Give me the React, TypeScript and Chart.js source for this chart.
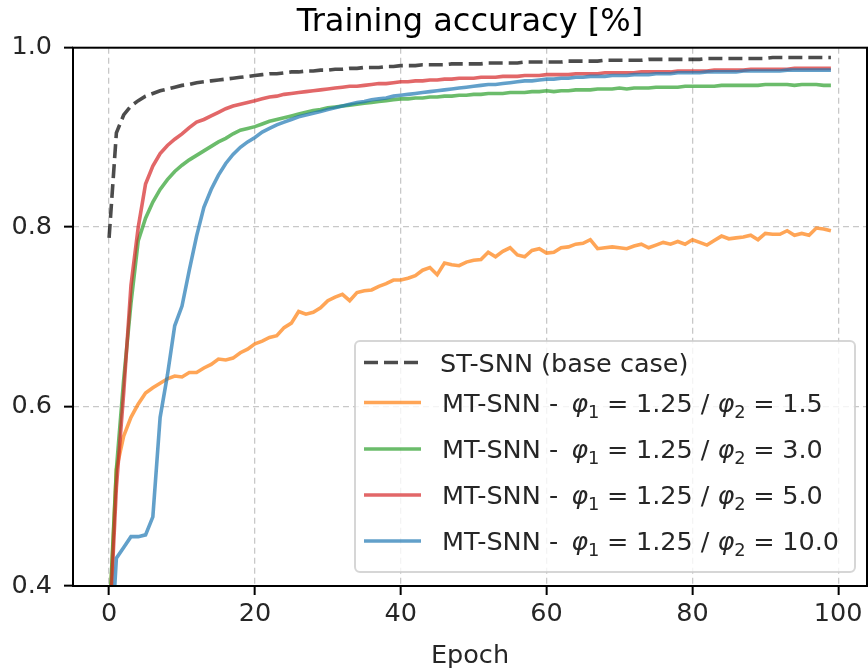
import React, { useEffect, useRef } from "react";
import { Chart, registerables } from "chart.js";

Chart.register(...registerables);

// Training accuracy per epoch for each configuration
const epochs: number[] = Array.from({ length: 100 }, (_, i) => i);

const baseCase: number[] = [
  0.788, 0.905, 0.925, 0.935, 0.941, 0.946, 0.949, 0.952, 0.954, 0.956,
  0.958, 0.959, 0.961, 0.962, 0.963, 0.964, 0.965, 0.966, 0.967, 0.968,
  0.969, 0.970, 0.971, 0.971, 0.972, 0.973, 0.973, 0.974, 0.974, 0.975,
  0.975, 0.976, 0.976, 0.977, 0.977, 0.978, 0.978, 0.978, 0.979, 0.979,
  0.980, 0.980, 0.980, 0.981, 0.981, 0.981, 0.981, 0.982, 0.982, 0.982,
  0.982, 0.982, 0.983, 0.983, 0.983, 0.983, 0.983, 0.984, 0.984, 0.984,
  0.984, 0.984, 0.984, 0.985, 0.985, 0.985, 0.985, 0.985, 0.986, 0.986,
  0.986, 0.986, 0.986, 0.986, 0.987, 0.987, 0.987, 0.987, 0.987, 0.987,
  0.987, 0.987, 0.988, 0.988, 0.988, 0.988, 0.988, 0.988, 0.988, 0.988,
  0.988, 0.989, 0.989, 0.989, 0.989, 0.989, 0.989, 0.989, 0.989, 0.989,
];

const phi2_1_5: number[] = [
  0.350, 0.530, 0.567, 0.588, 0.603, 0.615, 0.621, 0.626, 0.631, 0.634,
  0.633, 0.638, 0.638, 0.643, 0.647, 0.653, 0.652, 0.654, 0.660, 0.664,
  0.670, 0.673, 0.677, 0.679, 0.688, 0.693, 0.706, 0.703, 0.705, 0.710,
  0.718, 0.722, 0.725, 0.718, 0.727, 0.729, 0.730, 0.734, 0.737, 0.741,
  0.741, 0.743, 0.746, 0.752, 0.755, 0.747, 0.760, 0.758, 0.757, 0.761,
  0.763, 0.764, 0.772, 0.767, 0.773, 0.777, 0.769, 0.767, 0.774, 0.776,
  0.771, 0.772, 0.777, 0.778, 0.781, 0.782, 0.786, 0.776, 0.777, 0.778,
  0.777, 0.776, 0.779, 0.781, 0.777, 0.780, 0.783, 0.781, 0.784, 0.781,
  0.786, 0.783, 0.780, 0.785, 0.790, 0.787, 0.788, 0.789, 0.791, 0.786,
  0.793, 0.792, 0.792, 0.796, 0.791, 0.793, 0.791, 0.799, 0.798, 0.796,
];

const phi2_3_0: number[] = [
  0.360, 0.530, 0.630, 0.715, 0.785, 0.810, 0.828, 0.842, 0.853, 0.862,
  0.869, 0.875, 0.880, 0.885, 0.890, 0.895, 0.899, 0.904, 0.908, 0.910,
  0.912, 0.915, 0.918, 0.920, 0.922, 0.924, 0.926, 0.928, 0.930, 0.931,
  0.933, 0.934, 0.935, 0.936, 0.937, 0.938, 0.939, 0.940, 0.941, 0.942,
  0.943, 0.943, 0.944, 0.944, 0.945, 0.945, 0.946, 0.946, 0.947, 0.947,
  0.948, 0.948, 0.949, 0.949, 0.949, 0.950, 0.950, 0.950, 0.951, 0.951,
  0.952, 0.951, 0.952, 0.952, 0.953, 0.953, 0.953, 0.954, 0.954, 0.954,
  0.955, 0.954, 0.955, 0.955, 0.955, 0.956, 0.956, 0.956, 0.956, 0.957,
  0.957, 0.957, 0.957, 0.957, 0.958, 0.958, 0.958, 0.958, 0.958, 0.958,
  0.959, 0.959, 0.959, 0.959, 0.958, 0.959, 0.959, 0.959, 0.958, 0.958,
];

const phi2_5_0: number[] = [
  0.340, 0.510, 0.615, 0.735, 0.800, 0.848, 0.868, 0.882, 0.891, 0.898,
  0.904, 0.911, 0.917, 0.920, 0.924, 0.928, 0.932, 0.935, 0.937, 0.939,
  0.941, 0.943, 0.945, 0.946, 0.948, 0.949, 0.950, 0.951, 0.952, 0.953,
  0.954, 0.955, 0.956, 0.957, 0.957, 0.958, 0.959, 0.960, 0.960, 0.961,
  0.962, 0.962, 0.963, 0.963, 0.964, 0.964, 0.965, 0.965, 0.966, 0.966,
  0.966, 0.967, 0.967, 0.967, 0.968, 0.968, 0.968, 0.969, 0.969, 0.969,
  0.970, 0.970, 0.970, 0.970, 0.971, 0.971, 0.971, 0.971, 0.972, 0.972,
  0.972, 0.972, 0.972, 0.973, 0.973, 0.973, 0.973, 0.973, 0.974, 0.974,
  0.974, 0.974, 0.974, 0.975, 0.975, 0.975, 0.975, 0.975, 0.976, 0.976,
  0.976, 0.976, 0.976, 0.976, 0.977, 0.977, 0.977, 0.977, 0.977, 0.977,
];

const phi2_10_0: number[] = [
  0.290, 0.431, 0.443, 0.455, 0.455, 0.457, 0.477, 0.588, 0.635, 0.690,
  0.712, 0.752, 0.790, 0.822, 0.842, 0.858, 0.871, 0.881, 0.889, 0.895,
  0.900, 0.906, 0.910, 0.914, 0.917, 0.920, 0.923, 0.925, 0.927, 0.929,
  0.931, 0.933, 0.935, 0.937, 0.939, 0.940, 0.942, 0.943, 0.944, 0.946,
  0.947, 0.948, 0.949, 0.950, 0.951, 0.952, 0.953, 0.954, 0.955, 0.956,
  0.957, 0.958, 0.959, 0.959, 0.960, 0.961, 0.962, 0.963, 0.963, 0.964,
  0.965, 0.965, 0.966, 0.966, 0.967, 0.967, 0.968, 0.968, 0.968, 0.969,
  0.969, 0.969, 0.970, 0.970, 0.970, 0.971, 0.971, 0.971, 0.972, 0.972,
  0.972, 0.972, 0.973, 0.973, 0.973, 0.973, 0.973, 0.974, 0.974, 0.974,
  0.974, 0.974, 0.974, 0.975, 0.975, 0.975, 0.975, 0.975, 0.975, 0.975,
];

const xTicks: number[] = [0, 20, 40, 60, 80, 100];
const yTicks: number[] = [0.4, 0.6, 0.8, 1.0];

const titleText = "Training accuracy [%]";
const xLabel = "Epoch";
const baseLabel = "ST-SNN (base case)";
const phi1Value = "1.25";
const phi2Values: string[] = ["1.5", "3.0", "5.0", "10.0"];

const FONT = "'DejaVu Sans', sans-serif";
const TEXT_COLOR = "#262626";
const lineColors: string[] = [
  "rgba(255,127,14,0.7)",
  "rgba(44,160,44,0.7)",
  "rgba(214,39,40,0.7)",
  "rgba(31,119,180,0.7)",
];
const baseColor = "rgba(0,0,0,0.7)";
const LINE_W = 3.6;
const BASE_DASH = [14, 6];

const toPoints = (vals: number[]) => vals.map((v, i) => ({ x: epochs[i], y: v }));

// Title centred over the plotting area, plus the four spines drawn over the lines
const framePlugin = {
  id: "frame",
  afterDatasetsDraw(chart: any) {
    const { ctx, chartArea: a } = chart;
    ctx.save();
    ctx.strokeStyle = "#000";
    ctx.lineWidth = 2;
    ctx.setLineDash([]);
    ctx.strokeRect(a.left, a.top, a.right - a.left, a.bottom - a.top);
    ctx.fillStyle = "#000";
    ctx.font = `32px ${FONT}`;
    ctx.textAlign = "center";
    ctx.textBaseline = "alphabetic";
    ctx.fillText(titleText, (a.left + a.right) / 2, a.top - 17);
    ctx.restore();
  },
};

// Legend with subscripted phi labels
const legendPlugin = {
  id: "phiLegend",
  afterDraw(chart: any) {
    const ctx: CanvasRenderingContext2D = chart.ctx;
    const a = chart.chartArea;
    const fs = 25.5;
    const boxL = a.right - 512;
    const boxR = a.right - 12;
    const boxT = a.bottom - 245;
    const boxB = a.bottom - 14;
    ctx.save();
    ctx.beginPath();
    (ctx as any).roundRect(boxL, boxT, boxR - boxL, boxB - boxT, 5);
    ctx.fillStyle = "rgba(255,255,255,0.8)";
    ctx.fill();
    ctx.strokeStyle = "rgba(204,204,204,0.8)";
    ctx.lineWidth = 2;
    ctx.stroke();

    const handleL = boxL + 9;
    const handleR = boxL + 66;
    const textX = boxL + 87;
    const baselines = [371.5, 411.5, 458, 504, 550].map((y) => y - 586 + a.bottom);

    const drawHandle = (y: number, color: string, dash: number[]) => {
      ctx.beginPath();
      ctx.strokeStyle = color;
      ctx.lineWidth = LINE_W;
      ctx.setLineDash(dash);
      ctx.moveTo(handleL, y);
      ctx.lineTo(handleR, y);
      ctx.stroke();
      ctx.setLineDash([]);
    };

    ctx.textBaseline = "alphabetic";
    ctx.textAlign = "left";
    ctx.fillStyle = TEXT_COLOR;

    // first row: base case
    drawHandle(baselines[0] - 9, baseColor, BASE_DASH);
    ctx.font = `${fs}px ${FONT}`;
    ctx.fillText(baseLabel, textX - 2, baselines[0]);

    const regular = `${fs}px ${FONT}`;
    const italic = `italic ${fs}px ${FONT}`;
    const small = `${fs * 0.7}px ${FONT}`;
    const eqGap = fs * 0.3;
    const slashGap = 8;

    phi2Values.forEach((v, k) => {
      const y = baselines[k + 1];
      drawHandle(y - 9, lineColors[k], []);
      let x = textX;
      const put = (t: string, font: string, dy = 0) => {
        ctx.font = font;
        ctx.fillText(t, x, y + dy);
        x += ctx.measureText(t).width;
      };
      put("MT-SNN - ", regular);
      x += 5;
      put("\u03c6", italic);
      put("1", small, 6);
      x += eqGap;
      put("=", regular);
      x += eqGap;
      put(phi1Value, regular);
      x += slashGap;
      put("/", regular);
      x += slashGap;
      put("\u03c6", italic);
      put("2", small, 6);
      x += eqGap;
      put("=", regular);
      x += eqGap;
      put(v, regular);
    });
    ctx.restore();
  },
};

export default function App() {
  const ref = useRef<HTMLCanvasElement | null>(null);

  useEffect(() => {
    if (!ref.current) return;
    const tickFont = { family: FONT, size: 25.5 };
    const gridOpts = {
      color: "rgba(176,176,176,0.7)",
      lineWidth: 1.3,
      tickColor: "#000",
      tickWidth: 2,
      tickLength: 9,
    };
    const chart = new Chart(ref.current, {
      type: "line",
      data: {
        datasets: [
          {
            label: baseLabel,
            data: toPoints(baseCase),
            borderColor: baseColor,
            borderWidth: LINE_W,
            borderDash: BASE_DASH,
            pointRadius: 0,
            order: 4,
          },
          ...[phi2_1_5, phi2_3_0, phi2_5_0, phi2_10_0].map((vals, k) => ({
            label: `MT-SNN - φ2 = ${phi2Values[k]}`,
            data: toPoints(vals),
            borderColor: lineColors[k],
            borderWidth: LINE_W,
            pointRadius: 0,
            order: 3 - k,
          })),
        ],
      },
      options: {
        responsive: false,
        animation: false,
        parsing: false as any,
        normalized: true,
        events: [],
        layout: { padding: { left: 0, right: 1, top: 47.7, bottom: 0 } },
        plugins: {
          legend: { display: false },
          tooltip: { enabled: false },
          title: { display: false },
        },
        scales: {
          x: {
            type: "linear",
            min: -4.95,
            max: 103.95,
            afterBuildTicks: (s: any) => {
              s.ticks = xTicks.map((v) => ({ value: v }));
            },
            afterFit: (s: any) => {
              s.height = 84;
            },
            ticks: {
              font: tickFont,
              color: TEXT_COLOR,
              padding: 4,
              maxRotation: 0,
              autoSkip: false,
            },
            grid: gridOpts,
            border: { display: false, dash: [6, 4] },
            title: {
              display: true,
              text: xLabel,
              color: TEXT_COLOR,
              font: tickFont,
              padding: { top: 0, bottom: -2 },
            },
          },
          y: {
            type: "linear",
            min: 0.4,
            max: 1.0,
            afterBuildTicks: (s: any) => {
              s.ticks = yTicks.map((v) => ({ value: v }));
            },
            afterFit: (s: any) => {
              s.width = 73;
            },
            ticks: {
              font: tickFont,
              color: TEXT_COLOR,
              padding: 12,
              callback: (v: any) => Number(v).toFixed(1),
            },
            grid: gridOpts,
            border: { display: false, dash: [6, 4] },
          },
        },
      },
      plugins: [framePlugin, legendPlugin],
    });
    return () => chart.destroy();
  }, []);

  return (
    <div style={{ position: "absolute", left: 0, top: 0, width: 868, height: 670, background: "#fff" }}>
      <canvas ref={ref} width={868} height={670} />
    </div>
  );
}
